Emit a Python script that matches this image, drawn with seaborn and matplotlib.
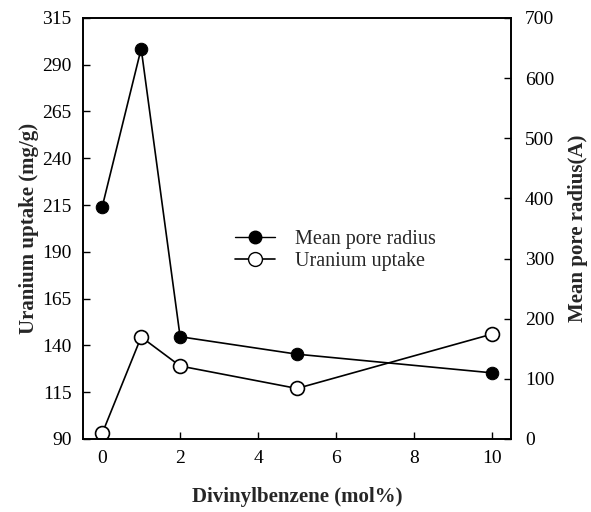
import pandas as pd
import matplotlib.pyplot as plt
import seaborn as sns
from matplotlib.lines import Line2D

# data
dvb = [0, 1, 2, 5, 10]
pore_radius = [386, 649, 170, 141, 110]      # right axis (A)
uranium_uptake = [93, 144.5, 129, 117, 146]  # left axis (mg/g)

df = pd.DataFrame({"dvb": dvb, "pore": pore_radius, "uptake": uranium_uptake})

sns.set_style("ticks")
plt.rcParams["font.family"] = ["Liberation Serif", "DejaVu Serif"]

fig = plt.figure(figsize=(5.91, 5.12), dpi=100)
ax = fig.add_axes([0.140, 0.1426, 0.725, 0.8224])
ax2 = ax.twinx()

sns.lineplot(data=df, x="dvb", y="uptake", ax=ax, color="black", lw=1.2,
             marker="o", markersize=10, markerfacecolor="white",
             markeredgecolor="black", markeredgewidth=1.2)
sns.lineplot(data=df, x="dvb", y="pore", ax=ax2, color="black", lw=1.2,
             marker="o", markersize=9, markerfacecolor="black",
             markeredgecolor="black")

ax.set_xlim(-0.5, 10.5)
ax.set_ylim(90, 315)
ax.set_yticks(range(90, 316, 25))
ax.set_xticks(range(0, 11, 2))
ax2.set_ylim(0, 700)
ax2.set_yticks(range(0, 701, 100))

for a in (ax, ax2):
    a.tick_params(direction="in", labelsize=14, length=5, width=1, colors="black")
    for s in a.spines.values():
        s.set_visible(True)
        s.set_color("black")
        s.set_linewidth(1.2)
ax.tick_params(axis="x", pad=8)
ax.tick_params(axis="y", pad=8)
ax2.tick_params(axis="y", pad=10)

ax.set_xlabel("Divinylbenzene (mol%)", fontsize=15, fontweight="bold", labelpad=14)
ax.set_ylabel("Uranium uptake (mg/g)", fontsize=15, fontweight="bold", labelpad=2)
ax2.set_ylabel("Mean pore radius(A)", fontsize=15, fontweight="bold", labelpad=10)

handles = [
    Line2D([], [], color="black", lw=1, marker="o", markersize=9,
           markerfacecolor="black", markeredgecolor="black"),
    Line2D([], [], color="black", lw=1.2, marker="o", markersize=10,
           markerfacecolor="white", markeredgecolor="black"),
]
ax.legend(handles, ["Mean pore radius", "Uranium uptake"], loc="center left",
          bbox_to_anchor=(0.355, 0.447), frameon=False, fontsize=14.5,
          handlelength=2.0, handletextpad=1.0, labelspacing=0.15,
          borderpad=0, borderaxespad=0)

fig.savefig("out.png", dpi=100)
